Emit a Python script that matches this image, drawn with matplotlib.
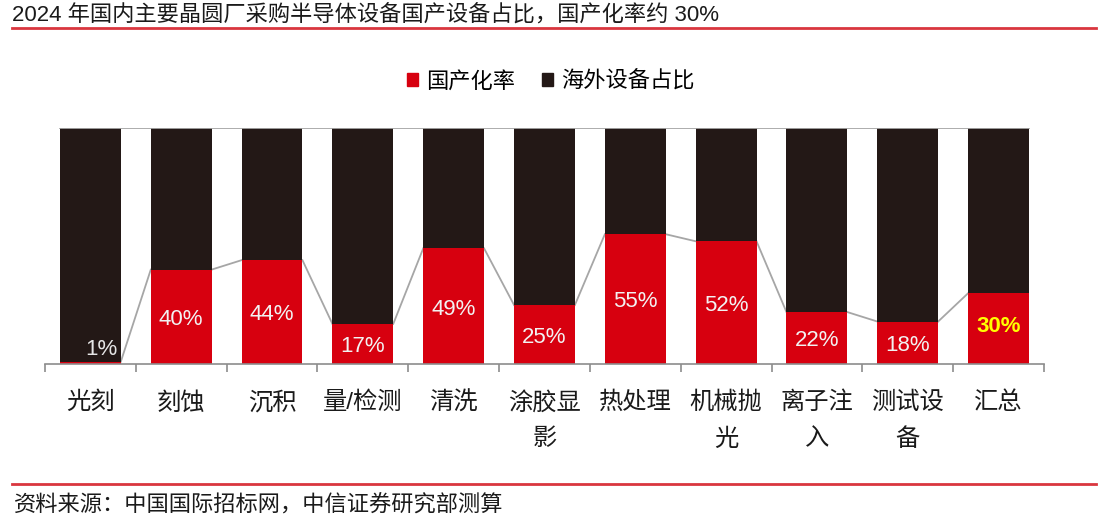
import matplotlib
matplotlib.use("Agg")
import matplotlib.pyplot as plt
from matplotlib.lines import Line2D
from matplotlib.patches import Patch

plt.rcParams['font.family'] = ['Liberation Sans', 'Noto Sans CJK SC', 'DejaVu Sans']

# ------------------------------ datos ------------------------------ #
categorias = ['光刻', '刻蚀', '沉积', '量/检测', '清洗', '涂胶显影', '热处理',
              '机械抛光', '离子注入', '测试设备', '汇总']
etiquetas = ['光刻', '刻蚀', '沉积', '量/检测', '清洗', '涂胶显\n影', '热处理',
             '机械抛\n光', '离子注\n入', '测试设\n备', '汇总']
guochan = [1, 40, 44, 17, 49, 25, 55, 52, 22, 18, 30]   # 国产化率 %
haiwai = [100 - v for v in guochan]                    # 海外设备占比 %

titulo = '2024 年国内主要晶圆厂采购半导体设备国产设备占比，国产化率约 30%'
fuente = '资料来源：中国国际招标网，中信证券研究部测算'

ROJO = '#d7000f'
NEGRO = '#231816'
GRIS = '#a6a6a6'

fig = plt.figure(figsize=(11.08, 5.27), dpi=100)
ax = fig.add_axes([0.0406, 0.3093, 0.9016, 0.4478])

n = len(categorias)
xx = list(range(n))
ancho = 0.67
rojo = [v / 100 for v in guochan]
negro = [v / 100 for v in haiwai]

ax.bar(xx, rojo, width=ancho, color=ROJO, linewidth=0, zorder=2)
ax.bar(xx, negro, width=ancho, bottom=rojo, color=NEGRO, linewidth=0, zorder=2)

# lineas de serie entre barras
for i in range(n - 1):
    ax.plot([i + ancho / 2, i + 1 - ancho / 2], [rojo[i], rojo[i + 1]],
            color=GRIS, lw=1.3, zorder=1)
ax.plot([-ancho / 2, n - 1 + ancho / 2], [1, 1], color=GRIS, lw=1.3, zorder=3)

# etiquetas de valores
for i in range(n):
    txt = '%d%%' % guochan[i]
    if i == 0:
        ax.text(i + 0.12, rojo[i] + 0.05, txt, ha='center', va='center',
                fontsize=16, color='#e6e6e6', zorder=4)
    elif i == n - 1:
        ax.text(i, rojo[i] / 2 + 0.01, txt, ha='center', va='center',
                fontsize=16, color='#ffff00', fontweight='bold', zorder=4)
    else:
        ax.text(i, rojo[i] / 2 - 0.012, txt, ha='center', va='center',
                fontsize=16, color='#f2f2f2', zorder=4)

ax.set_xlim(-0.5, n - 0.5)
ax.set_ylim(0, 1)
ax.set_yticks([])
for s in ['top', 'right', 'left']:
    ax.spines[s].set_visible(False)
ax.spines['bottom'].set_color('#8c8c8c')
ax.spines['bottom'].set_linewidth(1.2)

ax.set_xticks(xx)
ax.set_xticklabels(etiquetas, fontsize=17.5, linespacing=1.8, color='#1a1a1a')
ax.tick_params(axis='x', which='major', length=0, pad=20)
ax.set_xticks([i - 0.5 for i in range(n + 1)], minor=True)
ax.tick_params(axis='x', which='minor', length=6, width=1.2, color='#8c8c8c', direction='out')

# leyenda
handles = [Patch(color=ROJO, label='国产化率'), Patch(color=NEGRO, label='海外设备占比')]
fig.legend(handles=handles, loc='center', bbox_to_anchor=(0.497, 0.845), ncol=2,
           frameon=False, fontsize=16, handlelength=0.5, handleheight=0.5,
           handletextpad=0.35, columnspacing=1.2)

# titulo y fuente
fig.text(0.011, 0.97, titulo, fontsize=16, ha='left', va='center', color='#1a1a1a')
fig.add_artist(Line2D([0.011, 0.989], [0.946, 0.946], color='#d9363e', lw=2,
                      transform=fig.transFigure))
fig.add_artist(Line2D([0.011, 0.989], [0.082, 0.082], color='#d9363e', lw=2,
                      transform=fig.transFigure))
fig.text(0.013, 0.04, fuente, fontsize=16, ha='left', va='center', color='#1a1a1a')

fig.savefig('out.png', dpi=100)
